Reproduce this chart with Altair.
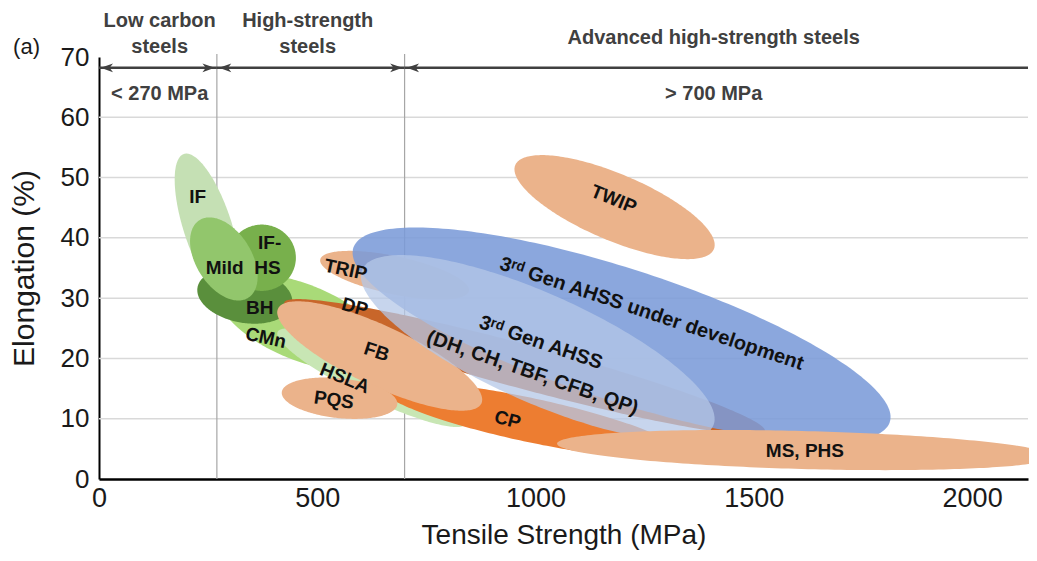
import numpy as np
import pandas as pd
import altair as alt

# ---------------- data ----------------
x_ticks = [0, 500, 1000, 1500, 2000]
y_ticks = [0, 10, 20, 30, 40, 50, 60, 70]
grid_y = [10, 20, 30, 40, 50, 60]
class_bounds = [270, 700]

# steel families: centre (MPa, %), half-length along main axis (MPa), half-width (%), tilt (deg)
shape_names = ["IF", "CMn", "HSLA", "BH", "IF-HS", "Mild", "CP", "DP", "FB", "PQS",
               "TRIP", "3rd Gen AHSS under development", "TWIP", "3rd Gen AHSS", "MS, PHS"]
shape_strength = [249, 464, 625, 334, 373, 286, 986, 975, 643, 551, 677, 1197, 1181, 1005, 1617]
shape_elong = [41.8, 26.0, 16.8, 30.4, 36.7, 36.5, 9.8, 18.6, 20.4, 13.4, 33.8, 23.9, 45.1, 21.8, 4.8]
shape_len = [176, 202, 240, 110, 78, 105, 344, 570, 257, 133, 174, 646, 247, 440, 568]
shape_wid = [4.0, 6.3, 3.3, 4.5, 5.5, 4.6, 3.65, 3.65, 5.0, 3.3, 3.15, 10.95, 5.5, 9.0, 3.15]
shape_tilt = [-72, -22, -26, -10, 0, -58, -12, -15, -25, -6, -12, -18, -23, -24, -1.5]
shape_color = ["#c5e0b4", "#a9da78", "#c8e6b4", "#5a8f3c", "#78b04c", "#92c66c",
               "#ed7d31", "#c8662a", "#ebb38b", "#ebb38b", "#ebb38b", "#7b9bd8",
               "#ebb38b", "#b4c7e7", "#ebb38b"]
shape_alpha = [1, 1, 1, 1, 1, 1, 1, 1, 1, 1, 1, 0.88, 1, 0.75, 1]

label_text = ["IF", "Mild", "IF-", "HS", "BH", "CMn", "HSLA", "PQS", "FB", "DP", "TRIP",
              "TWIP", "CP", "MS, PHS", "3ʳᵈ Gen AHSS under development", "3ʳᵈ Gen AHSS",
              "(DH, CH, TBF, CFB, QP)"]
label_x = [226, 288, 391, 386, 368, 382, 563, 538, 636, 586, 565, 1179, 936, 1617, 1266, 1012, 993]
label_y = [46.8, 35.0, 39.1, 35.0, 28.4, 23.4, 16.7, 13.1, 21.1, 28.5, 34.7, 46.4, 9.8, 4.6, 27.4, 22.6, 17.6]
label_angle = [0, 0, 0, 0, 0, 12, 22, 8, 18, 15, 12, 22, 15, 0, 18.5, 19, 19]
label_size = [19, 19, 19, 19, 19, 19, 19, 19, 19, 19, 19, 19, 19, 19, 20, 20, 20]

head_text = ["Low carbon", "steels", "High-strength", "steels", "Advanced high-strength steels",
             "< 270 MPa", "> 700 MPa"]
head_x = [139, 139, 478, 478, 1408, 139, 1408]
head_y = [75.9, 71.6, 75.9, 71.6, 73.2, 63.9, 63.9]

arrow_y = 68.2
arrow_x1 = [0, 270, 700]
arrow_x2 = [270, 700, 2128]
head_left_x = [4, 275, 705]
head_right_x = [265, 695]

# ---------------- layout ----------------
W, H = 929, 422
XMAX, YMAX = 2128, 70
PX_X = W / XMAX
PX_Y = H / YMAX
FONT = "Liberation Sans"

XS = alt.Scale(domain=[0, XMAX], nice=False, zero=False)
YS = alt.Scale(domain=[0, YMAX], nice=False, zero=False)
X_AXIS = alt.Axis(title="Tensile Strength (MPa)", values=x_ticks, format="d", grid=False, ticks=False,
                  domainColor="#000000", domainWidth=2.5, labelFontSize=27, labelFont=FONT,
                  labelColor="#1a1a1a", labelPadding=6, labelFlush=False, labelOverlap=False,
                  titleFont=FONT, titleFontSize=28, titleFontWeight="normal", titleColor="#1a1a1a",
                  titleX=W / 2, titleY=56, titleBaseline="middle", titleAlign="center")
Y_AXIS = alt.Axis(title="Elongation (%)", values=y_ticks, grid=False, ticks=False,
                  domainColor="#000000", domainWidth=2, labelFontSize=26, labelFont=FONT,
                  labelColor="#1a1a1a", labelPadding=10, labelOverlap=False,
                  titleFont=FONT, titleFontSize=30, titleFontWeight="normal", titleColor="#1a1a1a",
                  titleX=-75, titleY=H / 2, titleAngle=-90, titleBaseline="middle", titleAlign="center")


def X(field="x"):
    return alt.X(f"{field}:Q", scale=XS, axis=X_AXIS)


def Y(field="y"):
    return alt.Y(f"{field}:Q", scale=YS, axis=Y_AXIS)


def ellipse_band(cx, cy, length, width, tilt, n=120):
    a = length * PX_X
    b = width * PX_Y
    th = np.deg2rad(tilt)
    c, s = np.cos(th), np.sin(th)
    A = c * c / a ** 2 + s * s / b ** 2
    B = 2 * c * s * (1 / a ** 2 - 1 / b ** 2)
    C = s * s / a ** 2 + c * c / b ** 2
    umax = np.sqrt(4 * C / (4 * A * C - B * B))
    t = np.linspace(0, np.pi, n)
    u = -umax * np.cos(t)
    disc = np.clip(B * B * u * u - 4 * C * (A * u * u - 1), 0, None)
    v1 = (-B * u + np.sqrt(disc)) / (2 * C)
    v2 = (-B * u - np.sqrt(disc)) / (2 * C)
    return pd.DataFrame({"x": cx + u / PX_X, "y": cy + v1 / PX_Y, "y2": cy + v2 / PX_Y})


layers = []

# grid lines
layers.append(
    alt.Chart(pd.DataFrame({"y": grid_y})).mark_rule(color="#d9d9d9", strokeWidth=1.5)
    .encode(y=Y())
)
# class boundaries
layers.append(
    alt.Chart(pd.DataFrame({"x": class_bounds, "y": [0, 0], "y2": [70.5, 70.5]}))
    .mark_rule(color="#a6a6a6", strokeWidth=1.2)
    .encode(x=X(), y=Y(), y2="y2:Q")
)

# steel family regions
for i, name in enumerate(shape_names):
    df = ellipse_band(shape_strength[i], shape_elong[i], shape_len[i], shape_wid[i], shape_tilt[i])
    layers.append(
        alt.Chart(df).mark_area(color=shape_color[i], opacity=shape_alpha[i], strokeWidth=0)
        .encode(x=X(), y=Y(), y2="y2:Q")
    )

# region labels
lab = pd.DataFrame({"t": label_text, "x": label_x, "y": label_y, "a": label_angle, "s": label_size})
layers.append(
    alt.Chart(lab).mark_text(font=FONT, fontWeight="bold", color="#111111",
                             align="center", baseline="middle")
    .encode(x=X(), y=Y(), text="t:N", angle=alt.Angle("a:Q", scale=None),
            size=alt.Size("s:Q", scale=None, legend=None))
)

# arrows
arr = pd.DataFrame({"x": arrow_x1, "x2": arrow_x2, "y": [arrow_y] * 3})
layers.append(
    alt.Chart(arr).mark_rule(color="#404040", strokeWidth=2.5)
    .encode(x=X(), x2="x2:Q", y=Y())
)
left_path = "M0,0L2,-0.7L1.45,0L2,0.7Z"
right_path = "M0,0L-2,-0.7L-1.45,0L-2,0.7Z"
layers.append(
    alt.Chart(pd.DataFrame({"x": head_left_x, "y": [arrow_y] * 3}))
    .mark_point(shape=left_path, size=150, filled=True, color="#404040", opacity=1, strokeWidth=0)
    .encode(x=X(), y=Y())
)
layers.append(
    alt.Chart(pd.DataFrame({"x": head_right_x, "y": [arrow_y] * 2}))
    .mark_point(shape=right_path, size=150, filled=True, color="#404040", opacity=1, strokeWidth=0)
    .encode(x=X(), y=Y())
)

# header texts
hd = pd.DataFrame({"t": head_text, "x": head_x, "y": head_y})
layers.append(
    alt.Chart(hd).mark_text(font=FONT, fontSize=20, fontWeight="bold", color="#404040",
                            align="center", baseline="middle")
    .encode(x=X(), y=Y(), text="t:N")
)
# panel tag
layers.append(
    alt.Chart(pd.DataFrame({"t": ["(a)"], "x": [-166], "y": [71.7]}))
    .mark_text(font=FONT, fontSize=22, color="#1a1a1a", align="center", baseline="middle")
    .encode(x=X(), y=Y(), text="t:N")
)

chart = (
    alt.layer(*layers)
    .properties(width=W, height=H,
                padding={"left": 91, "top": 49, "right": 1, "bottom": 72},
                autosize=alt.AutoSizeParams(type="none"))
    .configure_view(strokeWidth=0)
)

chart.save("out.html", embed_options={"renderer": "svg", "actions": False})
